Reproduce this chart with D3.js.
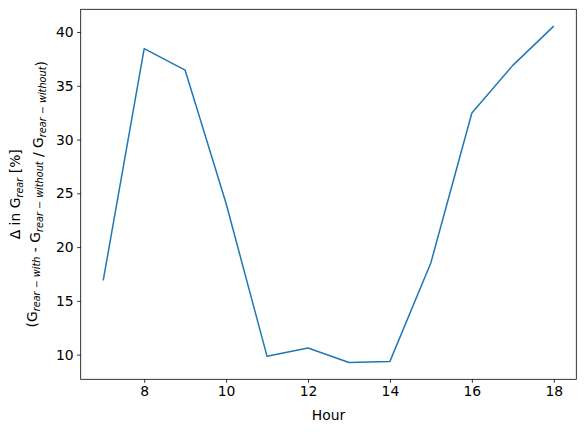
<!DOCTYPE html>
<html>
<head>
<meta charset="utf-8">
<script src="https://cdn.jsdelivr.net/npm/d3@7"></script>
<style>
  body { margin: 0; background: #fff; }
  svg text { font-family: "DejaVu Sans", sans-serif; fill: #000; }
  .axis path, .axis line { stroke: #000; stroke-width: 0.8; }
  .axis text { font-size: 13.9px; }
</style>
</head>
<body>
<div id="chart"></div>
<script>
// data
var hours = [7, 8, 9, 10, 11, 12, 13, 14, 15, 16, 17, 18];
var deltaRear = [16.9, 38.45, 36.45, 24.05, 9.84, 10.62, 9.27, 9.37, 18.55, 32.47, 36.9, 40.55];
var xTicks = [8, 10, 12, 14, 16, 18];
var yTicks = [10, 15, 20, 25, 30, 35, 40];

// set the dimensions and margins of the graph
var W = 585, H = 432;
var margin = { top: 9.3, right: 8.7, bottom: 52.7, left: 80.7 },
    width = W - margin.left - margin.right,
    height = H - margin.top - margin.bottom;

var svg = d3.select("#chart")
    .append("svg")
    .attr("width", W)
    .attr("height", H)
    .append("g")
    .attr("transform", "translate(" + margin.left + "," + margin.top + ")");

// matplotlib style 5% margins
var xr = d3.extent(hours), yr = d3.extent(deltaRear);
var xpad = (xr[1] - xr[0]) * 0.05, ypad = (yr[1] - yr[0]) * 0.05;

var x = d3.scaleLinear()
    .domain([xr[0] - xpad, xr[1] + xpad])
    .range([0, width]);
var y = d3.scaleLinear()
    .domain([yr[0] - ypad, yr[1] + ypad])
    .range([height, 0]);

// x axis
var gx = svg.append("g")
    .attr("class", "axis")
    .attr("transform", "translate(0," + height + ")")
    .call(d3.axisBottom(x).tickValues(xTicks).tickSize(3.5).tickPadding(3.5).tickSizeOuter(0));
gx.select(".domain").remove();

// y axis
var gy = svg.append("g")
    .attr("class", "axis")
    .call(d3.axisLeft(y).tickValues(yTicks).tickSize(3.5).tickPadding(3.5).tickSizeOuter(0));
gy.select(".domain").remove();

// the line
var line = d3.line()
    .x(function (d, i) { return x(hours[i]); })
    .y(function (d) { return y(d); });

svg.append("path")
    .datum(deltaRear)
    .attr("fill", "none")
    .attr("stroke", "#1f77b4")
    .attr("stroke-width", 1.5)
    .attr("stroke-linejoin", "round")
    .attr("d", line);

// frame
svg.append("rect")
    .attr("width", width)
    .attr("height", height)
    .attr("fill", "none")
    .attr("stroke", "#000")
    .attr("stroke-width", 0.8);

// x label
svg.append("text")
    .attr("x", width / 2)
    .attr("y", height + 41)
    .attr("text-anchor", "middle")
    .style("font-size", "13.9px")
    .text("Hour");

// y label, two lines with subscripts
var ylab = svg.append("text")
    .attr("transform", "translate(" + (-61) + "," + (height / 2) + ") rotate(-90)")
    .attr("text-anchor", "middle")
    .style("font-size", "13.9px");

ylab.append("tspan").text("\u0394 in G");
ylab.append("tspan").attr("dy", 3).style("font-size", "9.7px").style("font-style", "italic").text("rear");
ylab.append("tspan").attr("dy", -3).text(" [%]");

var ylab2 = svg.append("text")
    .attr("transform", "translate(" + (-44) + "," + (height / 2) + ") rotate(-90)")
    .attr("text-anchor", "middle")
    .style("font-size", "13.9px");

var parts = [
    ["(G", "rear \u2212 with"],
    [" - G", "rear \u2212 without"],
    [" / G", "rear \u2212 without"]
];
parts.forEach(function (p) {
    ylab2.append("tspan").text(p[0]);
    ylab2.append("tspan").attr("dy", 3).style("font-size", "9.7px").style("font-style", "italic").text(p[1]);
    ylab2.append("tspan").attr("dy", -3).text("");
});
ylab2.append("tspan").text(")");
</script>
</body>
</html>
